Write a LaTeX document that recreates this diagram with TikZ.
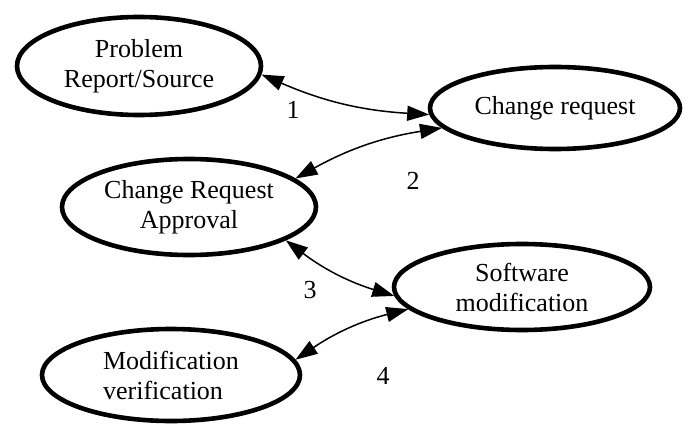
\documentclass[tikz,border=0pt]{standalone}
\usepackage{fontspec}
\setmainfont{Liberation Serif}
\usetikzlibrary{shapes.geometric,arrows.meta}
\begin{document}
\begin{tikzpicture}[x=1pt,y=1pt,
                    thick,main node/.style={ellipse,draw,line width=4.6pt,inner sep=0pt,align=center,
                                            font=\fontsize{26}{30}\selectfont},
                    link/.style={{Triangle[length=22pt,width=15pt]}-{Triangle[length=22pt,width=15pt]},line width=1.5pt},
                    num/.style={font=\fontsize{26}{30}\selectfont}]
        \useasboundingbox (0,0) rectangle (684,426);

        % Define vertices
        \node[main node,minimum width=244pt,minimum height=98pt] (PR) at (139,360) {Problem\\Report/Source};
        \node[main node,minimum width=250pt,minimum height=82pt] (REQ) at (555,318) {Change request};
        \node[main node,minimum width=254pt,minimum height=96pt] (CRA) at (189,219) {Change Request\\Approval};
        \node[main node,minimum width=256pt,minimum height=86pt] (SW) at (522,139) {Software\\modification};
        \node[main node,minimum width=258pt,minimum height=92pt,align=left] (MV) at (171,51) {Modification\\verification};

        % Define edges
        \draw[link] (PR.-4) to[bend right=10] (REQ.183);
        \draw[link] (CRA.15) to[bend left=10] (REQ.190);
        \draw[link] (CRA.-19) to[bend right=10] (SW.184);
        \draw[link] (MV.7) to[bend left=10] (SW.191);

        % Edge numbers
        \node[num] (n1) at (293,316) {1};
        \node[num] (n2) at (413,245) {2};
        \node[num] (n3) at (310,136) {3};
        \node[num] (n4) at (383,50) {4};
\end{tikzpicture}
\end{document}
